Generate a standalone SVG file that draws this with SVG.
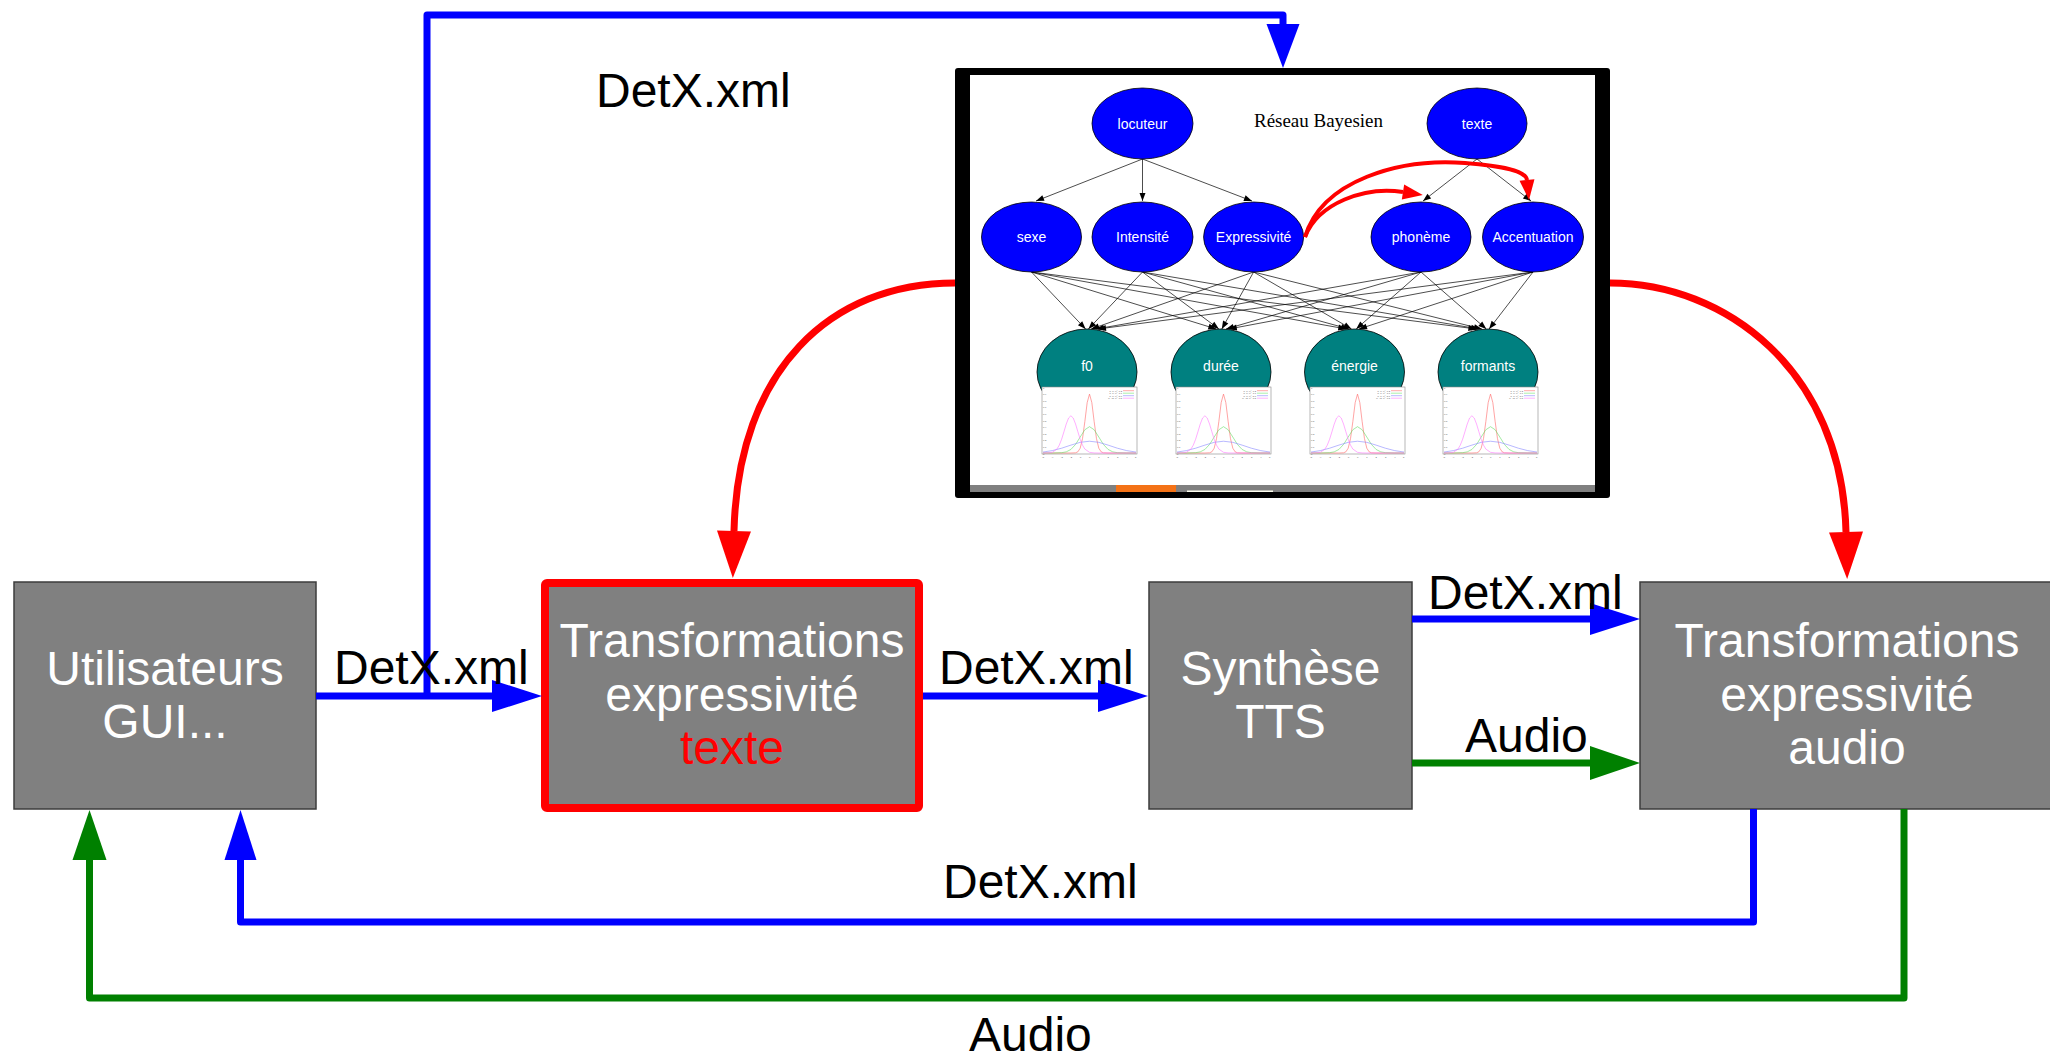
<svg xmlns="http://www.w3.org/2000/svg" width="2050" height="1058" viewBox="0 0 2050 1058">
<style>
.box{fill:#808080;stroke:#3c3c3c;stroke-width:1.5}
.bt{font-family:"Liberation Sans",Arial,sans-serif;font-size:48px;fill:#fff;text-anchor:middle}
.lbl{font-family:"Liberation Sans",Arial,sans-serif;font-size:48px;fill:#000}
.cb{fill:none;stroke:#00f;stroke-width:7;stroke-linejoin:round}
.cg{fill:none;stroke:#008000;stroke-width:7;stroke-linejoin:round}
.cr{fill:none;stroke:#f00;stroke-width:7}
.bn{fill:#00f;stroke:#000;stroke-width:0.8}
.tn{fill:#008080;stroke:#000;stroke-width:0.8}
.nt{font-family:"Liberation Sans",Arial,sans-serif;font-size:14px;fill:#fff;text-anchor:middle}
.e{stroke:#000;stroke-width:0.7;fill:none;marker-end:url(#ak)}
.sr{fill:none;stroke:#f00;stroke-width:4;marker-end:url(#ars)}
.tk{font-family:"Liberation Sans",Arial,sans-serif;font-size:2.4px;fill:#555}
.cv{fill:none;stroke-width:0.6}
</style>
<defs>
<marker id="ab" markerUnits="userSpaceOnUse" markerWidth="60" markerHeight="40" refX="0" refY="0" orient="auto" overflow="visible"><path d="M0,-16 L50,0 L0,16 Z" fill="#00f"/></marker>
<marker id="ab2" markerUnits="userSpaceOnUse" markerWidth="60" markerHeight="40" refX="0" refY="0" orient="auto" overflow="visible"><path d="M0,-16.5 L44,0 L0,16.5 Z" fill="#00f"/></marker>
<marker id="ag" markerUnits="userSpaceOnUse" markerWidth="60" markerHeight="40" refX="0" refY="0" orient="auto" overflow="visible"><path d="M0,-17 L50,0 L0,17 Z" fill="#008000"/></marker>
<marker id="ar" markerUnits="userSpaceOnUse" markerWidth="60" markerHeight="40" refX="0" refY="0" orient="auto" overflow="visible"><path d="M0,-17 L47,0 L0,17 Z" fill="#f00"/></marker>
<marker id="ars" markerUnits="userSpaceOnUse" markerWidth="30" markerHeight="20" refX="0" refY="0" orient="auto" overflow="visible"><path d="M0,-7.5 L20,0 L0,7.5 Z" fill="#f00"/></marker>
<marker id="ak" markerUnits="userSpaceOnUse" markerWidth="12" markerHeight="10" refX="8" refY="0" orient="auto" overflow="visible"><path d="M0,-3 L8,0 L0,3 Z" fill="#000"/></marker>
<g id="chart">
<rect x="0" y="0" width="95" height="67" fill="#fff" stroke="#888" stroke-width="0.6"/>
<g class="tk">
<text x="1" y="67.5">0</text><text x="1" y="60.9">0.1</text><text x="1" y="54.3">0.2</text><text x="1" y="47.7">0.3</text><text x="1" y="41.1">0.4</text><text x="1" y="34.5">0.5</text><text x="1" y="27.9">0.6</text><text x="1" y="21.3">0.7</text><text x="1" y="14.7">0.8</text><text x="1" y="8.1">0.9</text><text x="1" y="1.8">1</text>
<text x="0" y="70.5">-5</text><text x="9.3" y="70.5">-4</text><text x="18.6" y="70.5">-3</text><text x="27.9" y="70.5">-2</text><text x="37.2" y="70.5">-1</text><text x="47" y="70.5">0</text><text x="56.3" y="70.5">1</text><text x="65.6" y="70.5">2</text><text x="74.9" y="70.5">3</text><text x="84.2" y="70.5">4</text><text x="93" y="70.5">5</text>
</g>
<g class="tk" text-anchor="end">
<text x="80" y="4.5">μ=0, σ²=0.2</text><text x="80" y="7">μ=0, σ²=1.0</text><text x="80" y="9.5">μ=0, σ²=5.0</text><text x="80" y="12">μ=−2, σ²=0.5</text>
</g>
<line x1="81" y1="3.7" x2="92" y2="3.7" stroke="#f55" stroke-width="0.5"/>
<line x1="81" y1="6.2" x2="92" y2="6.2" stroke="#5d5" stroke-width="0.5"/>
<line x1="81" y1="8.7" x2="92" y2="8.7" stroke="#77f" stroke-width="0.5"/>
<line x1="81" y1="11.2" x2="92" y2="11.2" stroke="#f6f" stroke-width="0.5"/>
<g transform="translate(1,0)">
<polyline class="cv" stroke="#f66" points="0,66 27.9,66 32.55,65.8 34.88,64.8 37.2,61.2 39.53,51.6 41.85,34.5 44.18,15.6 46.5,7.1 48.83,15.6 51.15,34.5 53.48,51.6 55.8,61.2 58.13,64.8 60.45,65.8 65.1,66 93,66"/>
<polyline class="cv" stroke="#6d6" points="0,66 9.3,66 18.6,65.7 23.25,64.85 27.9,62.44 32.55,57.45 37.2,50.03 41.85,42.76 46.5,39.67 51.15,42.76 55.8,50.03 60.45,57.45 65.1,62.44 69.75,64.85 74.4,65.7 83.7,66 93,66"/>
<polyline class="cv" stroke="#88f" points="0,65.04 9.3,63.62 18.6,61.21 27.9,58.11 37.2,55.35 46.5,54.23 55.8,55.35 65.1,58.11 74.4,61.21 83.7,63.62 93,65.04"/>
<polyline class="cv" stroke="#f7f" points="0,66 4.65,65.93 9.3,65.32 13.95,62.07 16.28,58.2 18.6,52.3 20.93,44.78 23.25,37 25.58,31.02 27.9,28.76 30.23,31.02 32.55,37 34.88,44.78 37.2,52.3 39.53,58.2 41.85,62.07 46.5,65.32 51.15,65.93 55.8,66 93,66"/>
</g>
</g>
</defs>

<rect width="2050" height="1058" fill="#fff"/>

<g id="bayes-frame">
<rect x="955" y="68" width="655" height="430" rx="3" fill="#000"/>
<rect x="970" y="75" width="625" height="410" fill="#fff"/>
<rect x="970" y="485" width="625" height="7" fill="#808080"/>
<rect x="1116" y="485" width="60" height="7" fill="#f47216"/>
<rect x="1187" y="490.5" width="86" height="1.5" fill="#fffff0"/>
<text x="1254" y="127" font-family="'Liberation Serif','Times New Roman',serif" font-size="19.5" textLength="129" lengthAdjust="spacingAndGlyphs" fill="#000">Réseau Bayesien</text>
</g>

<g id="bayes-edges">
<path class="e" d="M1142.5,159 L1036,201"/>
<path class="e" d="M1142.5,159 L1142.5,201"/>
<path class="e" d="M1142.5,159 L1252,201"/>
<path class="e" d="M1477,159 L1423,201"/>
<path class="e" d="M1477,159 L1531,201"/>
<path class="e" d="M1031.5,272 L1085.6,329"/>
<path class="e" d="M1142.5,272 L1088.4,329"/>
<path class="e" d="M1253.6,272 L1091.2,329"/>
<path class="e" d="M1421,272 L1095.9,329"/>
<path class="e" d="M1533,272 L1098,329"/>
<path class="e" d="M1031.5,272 L1216.3,329"/>
<path class="e" d="M1142.5,272 L1218.9,329"/>
<path class="e" d="M1253.6,272 L1221.8,329"/>
<path class="e" d="M1421,272 L1226,329"/>
<path class="e" d="M1533,272 L1228.8,329"/>
<path class="e" d="M1031.5,272 L1346.3,329"/>
<path class="e" d="M1142.5,272 L1349,329"/>
<path class="e" d="M1253.6,272 L1351.5,329"/>
<path class="e" d="M1421,272 L1356.2,329"/>
<path class="e" d="M1533,272 L1359,329"/>
<path class="e" d="M1031.5,272 L1476.4,329"/>
<path class="e" d="M1142.5,272 L1479.1,329"/>
<path class="e" d="M1253.6,272 L1481.9,329"/>
<path class="e" d="M1421,272 L1486.3,329"/>
<path class="e" d="M1533,272 L1489.1,329"/>
</g>

<g id="bn-locuteur"><ellipse class="bn" cx="1142.5" cy="123.5" rx="50.5" ry="35.5"/><text class="nt" x="1142.5" y="129">locuteur</text></g>
<g id="bn-texte"><ellipse class="bn" cx="1477" cy="123.5" rx="50" ry="35.5"/><text class="nt" x="1477" y="129">texte</text></g>
<g id="bn-sexe"><ellipse class="bn" cx="1031.5" cy="237" rx="50" ry="35"/><text class="nt" x="1031.5" y="242">sexe</text></g>
<g id="bn-intensite"><ellipse class="bn" cx="1142.5" cy="237" rx="50.5" ry="35"/><text class="nt" x="1142.5" y="242">Intensité</text></g>
<g id="bn-expressivite"><ellipse class="bn" cx="1253.6" cy="237" rx="50" ry="35"/><text class="nt" x="1253.6" y="242">Expressivité</text></g>
<g id="bn-phoneme"><ellipse class="bn" cx="1421" cy="237" rx="50" ry="35"/><text class="nt" x="1421" y="242">phonème</text></g>
<g id="bn-accentuation"><ellipse class="bn" cx="1533" cy="237" rx="50.5" ry="35"/><text class="nt" x="1533" y="242">Accentuation</text></g>

<g id="bn-f0"><ellipse class="tn" cx="1087" cy="372" rx="50" ry="43"/><text class="nt" x="1087" y="371">f0</text><use href="#chart" x="1042" y="387"/></g>
<g id="bn-duree"><ellipse class="tn" cx="1221" cy="372" rx="50" ry="43"/><text class="nt" x="1221" y="371">durée</text><use href="#chart" x="1176" y="387"/></g>
<g id="bn-energie"><ellipse class="tn" cx="1354.5" cy="372" rx="50" ry="43"/><text class="nt" x="1354.5" y="371">énergie</text><use href="#chart" x="1310" y="387"/></g>
<g id="bn-formants"><ellipse class="tn" cx="1488" cy="372" rx="50" ry="43"/><text class="nt" x="1488" y="371">formants</text><use href="#chart" x="1443" y="387"/></g>

<g id="bayes-red-edges">
<path class="sr" d="M1305,237 C1318,203 1365,186 1403,192"/>
<path class="sr" d="M1305,237 C1322,180 1400,158 1465,163 C1500,166 1526,170 1527,180"/>
</g>

<g id="utilisateurs"><rect class="box" x="14" y="582" width="302" height="227"/><text class="bt" x="165" y="685">Utilisateurs</text><text class="bt" x="165" y="738">GUI...</text></g>
<g id="transfo-texte"><rect x="545" y="583" width="374" height="225" rx="2" fill="#808080" stroke="#f00" stroke-width="8"/><text class="bt" x="732" y="657">Transformations</text><text class="bt" x="732" y="711">expressivité</text><text class="bt" x="732" y="764" fill="#f00" style="fill:#f00">texte</text></g>
<g id="synthese"><rect class="box" x="1149" y="582" width="263" height="227"/><text class="bt" x="1280.5" y="685">Synthèse</text><text class="bt" x="1280.5" y="738">TTS</text></g>
<g id="transfo-audio"><rect class="box" x="1640" y="582" width="420" height="227"/><text class="bt" x="1847" y="657">Transformations</text><text class="bt" x="1847" y="711">expressivité</text><text class="bt" x="1847" y="764">audio</text></g>

<g id="connectors">
<path class="cb" d="M316,696 L492,696" marker-end="url(#ab)"/>
<path class="cb" d="M427,696 L427,15 L1283,15 L1283,24" marker-end="url(#ab2)"/>
<path class="cb" d="M923,696 L1098,696" marker-end="url(#ab)"/>
<path class="cb" d="M1412,619 L1590,619" marker-end="url(#ab)"/>
<path class="cg" d="M1412,763 L1590,763" marker-end="url(#ag)"/>
<path class="cb" d="M1753.5,809 L1753.5,922 L240.5,922 L240.5,860" marker-end="url(#ab)"/>
<path class="cg" d="M1904,809 L1904,998 L89.5,998 L89.5,860" marker-end="url(#ag)"/>
<path class="cr" d="M955,283 C830,283 738,370 734,531" marker-end="url(#ar)"/>
<path class="cr" d="M1610,283 C1725,283 1842,370 1846,532" marker-end="url(#ar)"/>
<text class="lbl" x="596" y="107">DetX.xml</text>
<text class="lbl" x="334" y="684">DetX.xml</text>
<text class="lbl" x="939" y="684">DetX.xml</text>
<text class="lbl" x="1428" y="609">DetX.xml</text>
<text class="lbl" x="1465" y="752">Audio</text>
<text class="lbl" x="943" y="898">DetX.xml</text>
<text class="lbl" x="969" y="1051">Audio</text>
</g>
</svg>
